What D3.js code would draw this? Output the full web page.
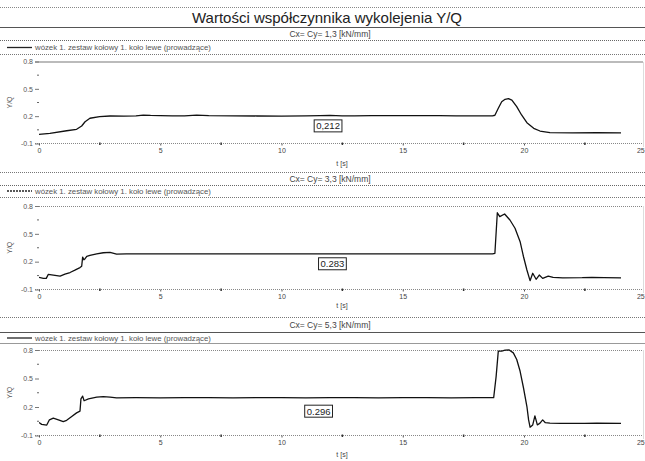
<!DOCTYPE html>
<html>
<head>
<meta charset="utf-8">
<script src="https://cdn.jsdelivr.net/npm/d3@7"></script>
<style>
  html, body { margin: 0; padding: 0; background: #fff; }
  svg { display: block; font-family: "Liberation Sans", Arial, sans-serif; }
</style>
</head>
<body>
<svg id="chart" width="645" height="461"></svg>
<script>
// ---- data ----
const chartTitle = "Wartości współczynnika wykolejenia Y/Q";
const panelTitles = ["Cx= Cy= 1,3 [kN/mm]", "Cx= Cy= 3,3 [kN/mm]", "Cx= Cy= 5,3 [kN/mm]"];
const legendText = "wózek 1. zestaw kołowy 1. koło lewe (prowadzące)";
const meanLabels = ["0,212", "0.283", "0.296"];
const meanLabelTimes = [11.92, 12.1, 11.53];
const xTicks = [0, 5, 10, 15, 20, 25];
const xMinorTicks = [2.5, 7.5, 12.5, 17.5, 22.5];
const yTicks = [-0.1, 0.2, 0.5, 0.8];
const yMinorTicks = [0.05, 0.35, 0.65];
const xLabel = "t [s]";
const yLabel = "Y/Q";

// time [s] and Y/Q for each stiffness case
const time1 = [0, 0.45, 1.14, 1.55, 1.76, 1.9, 2.1, 2.5, 2.93, 3.5, 4.0, 4.3, 4.6, 5.0, 5.5, 6.0, 6.5, 7.0, 8.0, 9.0, 10.0, 11.0, 11.6, 12.0, 12.5, 13.0, 13.7, 14.5, 15.2, 15.8, 16.5, 17.2, 18.0, 18.7, 18.8, 18.94, 19.08, 19.22, 19.36, 19.5, 19.7, 19.9, 20.12, 20.4, 20.66, 21.07, 22.0, 23.0, 24.0];
const yq1   = [0.0, 0.012, 0.04, 0.056, 0.092, 0.139, 0.177, 0.194, 0.202, 0.200, 0.203, 0.212, 0.208, 0.206, 0.204, 0.203, 0.212, 0.205, 0.203, 0.202, 0.200, 0.203, 0.207, 0.209, 0.204, 0.203, 0.207, 0.206, 0.205, 0.207, 0.206, 0.204, 0.203, 0.204, 0.21, 0.286, 0.359, 0.385, 0.392, 0.377, 0.304, 0.213, 0.128, 0.067, 0.037, 0.019, 0.017, 0.018, 0.017];

const time2 = [0, 0.18, 0.3, 0.38, 0.59, 0.87, 1.07, 1.28, 1.48, 1.69, 1.76, 1.8, 1.85, 1.9, 1.97, 2.1, 2.38, 2.65, 2.93, 3.2, 3.6, 4.5, 5.5, 6.5, 7.5, 8.5, 9.5, 10.5, 11.5, 12.5, 13.5, 14.5, 15.5, 16.5, 17.5, 18.7, 18.8, 18.9, 19.0, 19.2, 19.42, 19.63, 19.84, 19.98, 20.12, 20.25, 20.36, 20.5, 20.63, 20.77, 21.0, 21.2, 21.6, 22.4, 22.8, 23.3, 24.0];
const yq2   = [0.030, 0.019, 0.02, 0.062, 0.054, 0.044, 0.065, 0.083, 0.108, 0.136, 0.150, 0.249, 0.22, 0.232, 0.257, 0.267, 0.285, 0.296, 0.300, 0.281, 0.283, 0.285, 0.284, 0.283, 0.285, 0.284, 0.283, 0.285, 0.284, 0.283, 0.285, 0.283, 0.284, 0.283, 0.284, 0.283, 0.29, 0.727, 0.685, 0.714, 0.649, 0.56, 0.415, 0.253, 0.11, -0.005, 0.075, 0.01, 0.056, 0.02, 0.045, 0.03, 0.026, 0.027, 0.03, 0.028, 0.025];

const time3 = [0, 0.11, 0.32, 0.43, 0.59, 0.8, 1.0, 1.14, 1.35, 1.55, 1.69, 1.73, 1.8, 1.86, 2.04, 2.38, 2.65, 2.93, 3.2, 4.0, 5.0, 6.0, 7.0, 8.0, 9.0, 10.0, 11.0, 12.0, 13.0, 14.0, 15.0, 16.0, 17.0, 18.0, 18.75, 18.85, 18.94, 19.08, 19.22, 19.39, 19.56, 19.7, 19.84, 19.98, 20.12, 20.19, 20.25, 20.36, 20.45, 20.55, 20.66, 20.77, 20.88, 21.07, 21.5, 22.5, 23.0, 24.0];
const yq3   = [0.036, 0.017, 0.01, 0.065, 0.083, 0.065, 0.046, 0.06, 0.1, 0.138, 0.156, 0.285, 0.314, 0.266, 0.285, 0.303, 0.31, 0.305, 0.296, 0.298, 0.297, 0.299, 0.298, 0.297, 0.298, 0.299, 0.297, 0.298, 0.298, 0.297, 0.299, 0.298, 0.297, 0.298, 0.298, 0.52, 0.788, 0.788, 0.798, 0.8, 0.77, 0.70, 0.576, 0.40, 0.205, 0.064, -0.013, 0.011, 0.107, 0.011, 0.03, 0.064, 0.035, 0.03, 0.028, 0.027, 0.03, 0.027];

const seriesTimes = [time1, time2, time3];
const seriesValues = [yq1, yq2, yq3];

// ---- layout ----
const W = 645;
const xLeft = 39, xPx25 = 645.25, plotRight = 643;
// header rows, plot extent and label offsets for each panel
const panels = [
  { head: 27,    sub: 33.5,  mid: 40.7, leg: 47.5, legLine: 54,  top: 61.5, bottom: 143.5, xLab: 163, topStyle: "solid",  legDash: null,  boxDy: 11 },
  { head: 172.5, sub: 178.5, mid: 185,  leg: 191,  legLine: 197, top: 206,  bottom: 289.5, xLab: 305, topStyle: "dotted", legDash: "2,1", boxDy: 10 },
  { head: 317,   sub: 325,   mid: 332,  leg: 338,  legLine: 343, top: 350,  bottom: 435.5, xLab: 454, topStyle: "dotted", legDash: null,  boxDy: 13.5 }
];

const svg = d3.select("#chart");

const x = d3.scaleLinear().domain([0, 25]).range([xLeft, xPx25]);

function hline(y, x0, x1, color, dash, width) {
  svg.append("line")
    .attr("x1", x0).attr("x2", x1).attr("y1", y).attr("y2", y)
    .attr("stroke", color).attr("stroke-width", width || 1)
    .attr("stroke-dasharray", dash || null)
    .attr("shape-rendering", "crispEdges");
}

// figure title
hline(7, 0, W, "#888", "1,1");
svg.append("text")
  .attr("x", 327).attr("y", 23)
  .attr("text-anchor", "middle")
  .attr("font-size", 15)
  .attr("fill", "#222")
  .text(chartTitle);

svg.append("defs").selectAll("clipPath")
  .data(panels).join("clipPath")
  .attr("id", (d, i) => "clip" + i)
  .append("rect")
  .attr("x", xLeft).attr("y", d => d.top - 1)
  .attr("width", plotRight - xLeft).attr("height", d => d.bottom - d.top + 2);

panels.forEach((p, i) => {
  const y = d3.scaleLinear().domain([-0.1, 0.8]).range([p.bottom, p.top]);

  // header rows
  if (i === 0) hline(p.head, 0, W, "#555", null);
  else hline(p.head, 0, W, "#777", "1,1");
  svg.append("text")
    .attr("x", 330).attr("y", p.sub + 3)
    .attr("text-anchor", "middle")
    .attr("font-size", 8.5).attr("fill", "#444")
    .text(panelTitles[i]);
  hline(p.mid, 0, W, i === 2 ? "#555" : "#666", i === 2 ? null : "1,1");

  // legend
  svg.append("line")
    .attr("x1", 7).attr("x2", 32).attr("y1", p.leg).attr("y2", p.leg)
    .attr("stroke", "#222").attr("stroke-width", 1.3)
    .attr("stroke-dasharray", p.legDash);
  svg.append("text")
    .attr("x", 35).attr("y", p.leg + 2.5)
    .attr("font-size", 7.8).attr("fill", "#555")
    .text(legendText);
  hline(p.legLine, 0, W, i === 2 ? "#999" : "#777", i === 2 ? null : "1,1");

  // top gridline at 0.8
  if (p.topStyle === "solid") hline(y(0.8), 35, plotRight, "#bbb", null, 2);
  else hline(y(0.8), 35, plotRight, "#888", "1,1");

  // right border
  svg.append("line")
    .attr("x1", plotRight).attr("x2", plotRight)
    .attr("y1", p.top).attr("y2", p.bottom + 3)
    .attr("stroke", "#ddd").attr("shape-rendering", "crispEdges");

  // bottom axis line (dotted)
  hline(y(-0.1), 35, plotRight, "#888", "1,1");

  // y axis
  const yAxis = d3.axisLeft(y)
    .tickValues(yTicks)
    .tickSize(4)
    .tickPadding(2)
    .tickFormat(d => d.toFixed(1));
  const gy = svg.append("g").attr("transform", `translate(${xLeft},0)`).call(yAxis);
  gy.select(".domain").remove();
  gy.selectAll(".tick line").attr("stroke", "#777");
  gy.selectAll(".tick text").attr("font-size", 7).attr("fill", "#555")
    .attr("font-family", "Liberation Sans, Arial, sans-serif");
  svg.append("g").selectAll("line").data(yMinorTicks).join("line")
    .attr("x1", xLeft - 2).attr("x2", xLeft).attr("y1", d => y(d)).attr("y2", d => y(d))
    .attr("stroke", "#666");

  svg.append("text")
    .attr("transform", `translate(12,${(p.top + p.bottom) / 2}) rotate(-90)`)
    .attr("text-anchor", "middle")
    .attr("font-size", 7).attr("fill", "#555")
    .text(yLabel);

  // x axis
  const xAxis = d3.axisBottom(x)
    .tickValues(xTicks)
    .tickSize(2)
    .tickPadding(3)
    .tickFormat(d3.format("d"));
  const gx = svg.append("g").attr("transform", `translate(0,${p.bottom})`).call(xAxis);
  gx.select(".domain").remove();
  gx.selectAll(".tick line").attr("stroke", "#555");
  gx.selectAll(".tick text").attr("font-size", 7).attr("fill", "#444")
    .attr("font-family", "Liberation Sans, Arial, sans-serif")
    .attr("text-anchor", d => d === 25 ? "end" : "middle")
    .attr("dx", d => d === 25 ? 0 : null)
    .attr("x", d => d === 25 ? -1 : 0);
  svg.append("g").selectAll("rect").data(xMinorTicks).join("rect")
    .attr("x", d => x(d) - 0.5).attr("y", p.bottom - 1)
    .attr("width", 1.5).attr("height", 2.5)
    .attr("fill", "#333");

  svg.append("text")
    .attr("x", 342).attr("y", p.xLab + 2.5)
    .attr("text-anchor", "middle")
    .attr("font-size", 7).attr("fill", "#444")
    .text(xLabel);

  // Y/Q trace
  const pts = seriesTimes[i].map((t, k) => [t, seriesValues[i][k]]);
  svg.append("path")
    .datum(pts)
    .attr("clip-path", `url(#clip${i})`)
    .attr("fill", "none")
    .attr("stroke", "#111")
    .attr("stroke-width", 1.3)
    .attr("stroke-linejoin", "round")
    .attr("d", d3.line().x(d => x(d[0])).y(d => y(d[1])));

  // mean value label
  const meanVal = parseFloat(meanLabels[i].replace(",", "."));
  const lx = x(meanLabelTimes[i]);
  const ly = y(meanVal) + p.boxDy;
  const g = svg.append("g");
  const txt = g.append("text")
    .attr("x", lx).attr("y", ly + 3.3)
    .attr("text-anchor", "middle")
    .attr("font-size", 9.5).attr("fill", "#222")
    .text(meanLabels[i]);
  const bb = txt.node().getBBox();
  g.insert("rect", "text")
    .attr("x", bb.x - 2).attr("y", bb.y - 0.5)
    .attr("width", bb.width + 4).attr("height", bb.height + 1)
    .attr("fill", "#fff").attr("stroke", "#222").attr("stroke-width", 1);
});
</script>
</body>
</html>
